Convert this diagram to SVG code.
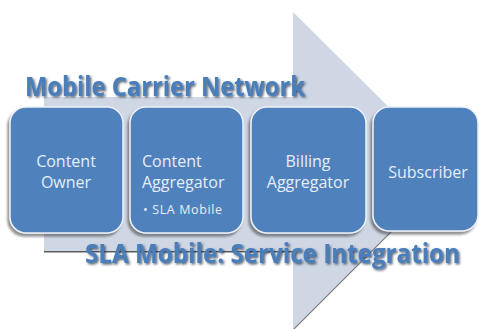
<svg xmlns="http://www.w3.org/2000/svg" width="479" height="329" viewBox="0 0 479 329">
  <defs>
    <style>
      .box { fill: #4f81bd; stroke: #eef2f8; stroke-width: 1.5; }
      .lbl { font-family: "Open Sans", "Liberation Sans", sans-serif; font-size: 16px; fill: #e6edf7; text-anchor: middle; }
      .sub { font-family: "Open Sans", "Liberation Sans", sans-serif; font-size: 12.5px; fill: #e6edf7; }
      .title { font-family: "Open Sans", "Liberation Sans", sans-serif; font-weight: bold; font-size: 26px; fill: #4a7ebb; }
    </style>
    <filter id="boxShadow" x="-20%" y="-20%" width="140%" height="140%">
      <feDropShadow dx="-2" dy="3" stdDeviation="1.2" flood-color="#3a3a3a" flood-opacity="0.55"/>
    </filter>
    <filter id="textShadow" x="-10%" y="-60%" width="120%" height="220%">
      <feDropShadow dx="1.5" dy="1.5" stdDeviation="1" flood-color="#1f2f45" flood-opacity="0.75"/>
    </filter>
    <filter id="arrowShadow" x="-10%" y="-10%" width="120%" height="120%">
      <feDropShadow dx="0" dy="1.5" stdDeviation="0.6" flood-color="#202020" flood-opacity="0.75"/>
    </filter>
  </defs>

  <!-- background -->
  <rect width="479" height="329" fill="#ffffff"/>

  <!-- large backdrop arrow pointing right -->
  <g id="arrow">
    <path d="M44 97 H293 V12 L452 170 L293 329 V251 H44 Z" fill="#cfd6e4" filter="url(#arrowShadow)"/>
  </g>

  <g id="title-top">
    <text class="title" x="25" y="96" textLength="280" lengthAdjust="spacingAndGlyphs" filter="url(#textShadow)">Mobile Carrier Network</text>
  </g>

  <g id="node-content-owner">
    <rect class="box" x="10" y="107" width="113" height="126" rx="16" filter="url(#boxShadow)"/>
    <text class="lbl" x="66" y="167">Content</text>
    <text class="lbl" x="66" y="188">Owner</text>
  </g>

  <g id="node-content-aggregator">
    <rect class="box" x="130" y="107" width="113" height="126" rx="16" filter="url(#boxShadow)"/>
    <text class="lbl" x="142" y="167" style="text-anchor:start">Content</text>
    <text class="lbl" x="142" y="188" style="text-anchor:start">Aggregator</text>
    <text class="sub" x="143" y="214" textLength="79" lengthAdjust="spacing">•  SLA Mobile</text>
  </g>

  <g id="node-billing-aggregator">
    <rect class="box" x="251" y="107" width="115" height="126" rx="16" filter="url(#boxShadow)"/>
    <text class="lbl" x="308" y="167">Billing</text>
    <text class="lbl" x="308" y="188">Aggregator</text>
  </g>

  <g id="node-subscriber">
    <rect class="box" x="373" y="107" width="105" height="124" rx="16" filter="url(#boxShadow)"/>
    <text class="lbl" x="428" y="178">Subscriber</text>
  </g>

  <g id="title-bottom">
    <text class="title" x="85" y="263" textLength="375" lengthAdjust="spacingAndGlyphs" filter="url(#textShadow)">SLA Mobile: Service Integration</text>
  </g>

  <g id="connectors"></g>
</svg>
